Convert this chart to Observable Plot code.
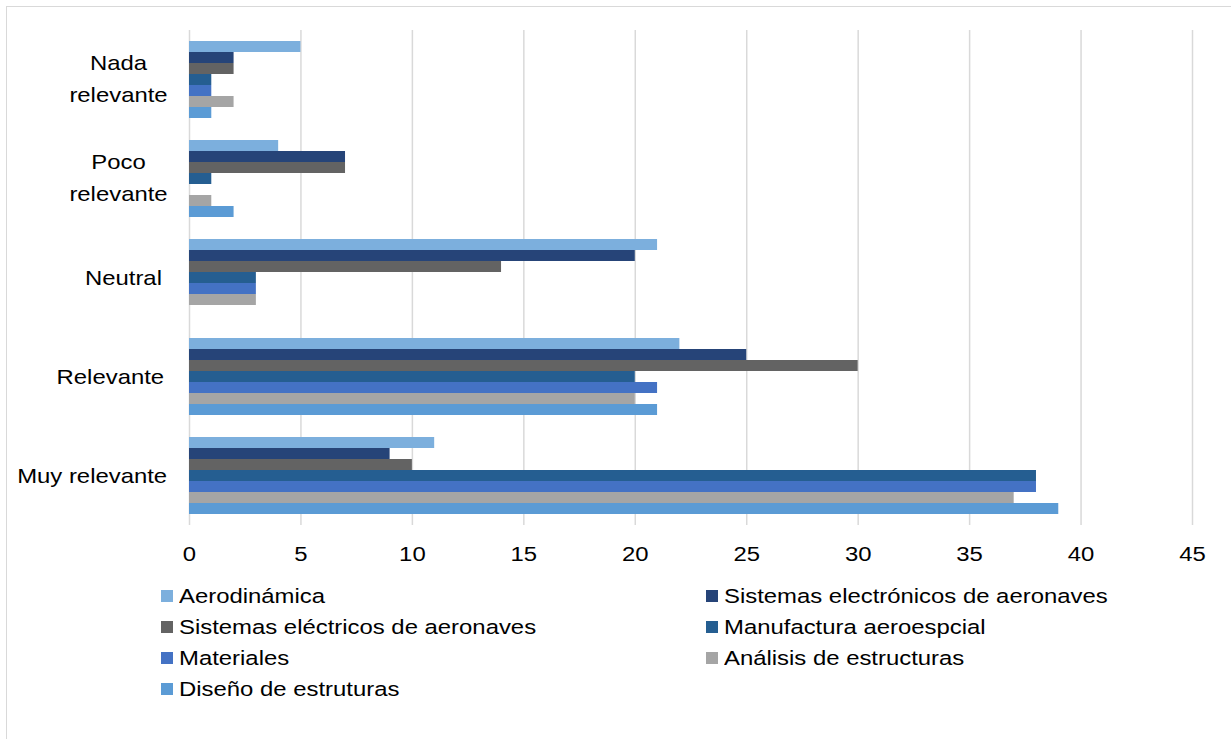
<!DOCTYPE html>
<html>
<head>
<meta charset="utf-8">
<script src="https://cdn.jsdelivr.net/npm/d3@7"></script>
<script src="https://cdn.jsdelivr.net/npm/@observablehq/plot@0.6"></script>
<style>
  body { margin: 0; background: #fff; font-family: "Liberation Sans", Arial, sans-serif; }
  #wrap { position: relative; width: 1231px; height: 739px; overflow: hidden; background: #fff; }
  #frame { position: absolute; left: 6px; top: 6px; width: 1300px; height: 800px; border: 1.5px solid #d9d9d9; box-sizing: border-box; }
  #chart { position: absolute; left: 0; top: 0; }
  #legend { position: absolute; left: 161px; top: 580px; display: grid; grid-template-columns: 545px 500px; grid-auto-rows: 31px; }
  .item { display: flex; align-items: center; font-size: 20.5px; color: #000; white-space: nowrap; }
  .sw { width: 12px; height: 12px; margin-right: 6px; flex: none; }
  .lbl { display: inline-block; transform: scaleX(1.165); transform-origin: left center; }
</style>
</head>
<body>
<div id="wrap">
  <div id="frame"></div>
  <div id="chart"></div>
  <div id="legend"></div>
</div>
<script>
const categories = ["Nada relevante", "Poco relevante", "Neutral", "Relevante", "Muy relevante"];
const series = [
  "Aerodinámica",
  "Sistemas electrónicos de aeronaves",
  "Sistemas eléctricos de aeronaves",
  "Manufactura aeroespcial",
  "Materiales",
  "Análisis de estructuras",
  "Diseño de estruturas"
];
const colors = ["#7cafdd", "#264478", "#636363", "#255e91", "#4472c4", "#a5a5a5", "#5b9bd5"];

const aerodinamica = [5, 4, 21, 22, 11];
const electronicos = [2, 7, 20, 25, 9];
const electricos   = [2, 7, 14, 30, 10];
const manufactura  = [1, 1, 3, 20, 38];
const materiales   = [1, 0, 3, 21, 38];
const analisis     = [2, 1, 3, 20, 37];
const diseno       = [1, 2, 0, 21, 39];

const xTicks = [0, 5, 10, 15, 20, 25, 30, 35, 40, 45];
const wrappedLabels = ["Nada relevante", "Poco relevante"];
const singleLabels = ["Neutral", "Relevante", "Muy relevante"];

const values = [aerodinamica, electronicos, electricos, manufactura, materiales, analisis, diseno];
const rows = series.flatMap((s, i) => categories.map((c, j) => ({category: c, series: s, value: values[i][j]})));

const chart = Plot.plot({
  width: 1231,
  height: 580,
  marginLeft: 189,
  marginRight: 39,
  marginTop: 28,
  marginBottom: 53,
  style: {fontFamily: "Liberation Sans, Arial, sans-serif", fontSize: "20.5px", color: "#000", background: "transparent", overflow: "visible"},
  x: {domain: [0, 45]},
  y: {domain: series, padding: 0, axis: null},
  fy: {domain: categories, paddingInner: 0.2, paddingOuter: 0.1, label: null},
  color: {domain: series, range: colors},
  marks: [
    Plot.ruleX(xTicks, {stroke: "#d9d9d9", strokeWidth: 1.5, insetTop: -10, insetBottom: -10}),
    Plot.barX(rows, {x: "value", y: "series", fy: "category", fill: "series"}),
    Plot.axisX({ticks: xTicks, tickSize: 0, tickPadding: 31, label: null, tickFormat: d => String(d)}),
    Plot.axisFy({anchor: "left", ticks: wrappedLabels, tickSize: 0, tickPadding: 71, textAnchor: "middle", lineHeight: 1.55, dy: -4, label: null, tickFormat: d => d.replace(" ", "\n")}),
    Plot.axisFy({anchor: "left", ticks: singleLabels, tickSize: 0, tickPadding: 33, label: null})
  ]
});
document.getElementById("chart").appendChild(chart);

// Widen the axis texts horizontally, keeping each text's anchor point fixed.
const SX = 1.165;
d3.select(chart).selectAll('g[aria-label$="tick label"]').each(function() {
  const anchor = this.getAttribute("text-anchor") || "middle";
  d3.select(this).selectAll("text").each(function() {
    const b = this.getBBox();
    const ox = anchor === "end" ? b.x + b.width : anchor === "start" ? b.x : b.x + b.width / 2;
    const t = this.getAttribute("transform") || "";
    this.setAttribute("transform", `${t} translate(${ox},0) scale(${SX},1) translate(${-ox},0)`.trim());
  });
});

const legend = d3.select("#legend");
series.forEach((s, i) => {
  const it = legend.append("div").attr("class", "item");
  it.append("span").attr("class", "sw").style("background", colors[i]);
  it.append("span").attr("class", "lbl").text(s);
});
</script>
</body>
</html>
